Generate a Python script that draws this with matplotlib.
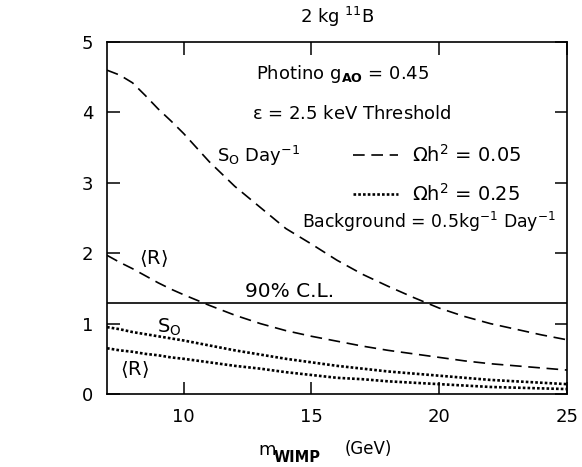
import matplotlib
matplotlib.use('Agg')
import matplotlib.pyplot as plt
import numpy as np

plt.rcParams['font.family'] = ['DejaVu Sans']
plt.rcParams['mathtext.default'] = 'regular'

# WIMP mass (GeV)
m_wimp = [7, 7.5, 8, 8.5, 9, 9.5, 10, 11, 12, 13, 14, 15, 16, 17, 18, 19,
          20, 21, 22, 23, 24, 25]

# rates for Omega h^2 = 0.05 (dashed)
s0_005 = [4.60, 4.53, 4.42, 4.24, 4.05, 3.88, 3.70, 3.30, 2.95, 2.65, 2.35,
          2.13, 1.90, 1.70, 1.53, 1.37, 1.22, 1.10, 1.00, 0.92, 0.84, 0.77]
r_005 = [1.97, 1.87, 1.78, 1.68, 1.58, 1.49, 1.41, 1.26, 1.12, 1.00, 0.90,
         0.82, 0.75, 0.68, 0.62, 0.57, 0.52, 0.47, 0.43, 0.40, 0.37, 0.34]

# rates for Omega h^2 = 0.25 (dotted)
s0_025 = [0.95, 0.92, 0.88, 0.85, 0.82, 0.79, 0.76, 0.69, 0.62, 0.56, 0.50,
          0.45, 0.40, 0.36, 0.32, 0.29, 0.26, 0.23, 0.20, 0.18, 0.16, 0.14]
r_025 = [0.65, 0.62, 0.60, 0.57, 0.55, 0.52, 0.50, 0.45, 0.40, 0.36, 0.31,
         0.27, 0.23, 0.21, 0.18, 0.16, 0.14, 0.12, 0.10, 0.09, 0.08, 0.07]

cl90 = 1.29

W, H = 582, 467
fig = plt.figure(figsize=(W / 100, H / 100), dpi=100)
ax = fig.add_axes([107 / W, 1 - 394 / H, 460 / W, 352 / H])

dash = (0, (7, 4))
dot = (0, (1, 0.8))
l1, = ax.plot(m_wimp, s0_005, color='k', lw=1.2, linestyle=dash,
              label=r'$\Omega$h$^2$ = 0.05')
ax.plot(m_wimp, r_005, color='k', lw=1.2, linestyle=dash)
l2, = ax.plot(m_wimp, s0_025, color='k', lw=1.9, linestyle=dot,
              label=r'$\Omega$h$^2$ = 0.25')
ax.plot(m_wimp, r_025, color='k', lw=1.9, linestyle=dot)
ax.axhline(cl90, color='k', lw=1.2)

ax.set_xlim(7, 25)
ax.set_ylim(0, 5)
ax.set_xticks([10, 15, 20, 25])
ax.set_yticks([0, 1, 2, 3, 4, 5])
for s in ax.spines.values():
    s.set_linewidth(1.2)
ax.tick_params(direction='in', length=9, width=1.1, labelsize=13,
               top=True, right=True, pad=10)

ax.set_title(r'2 kg $^{11}$B', fontsize=13, pad=14)

# axis label, subscript drawn a little larger than mathtext would
fig.text(258 / W, 1 - 450 / H, 'm', fontsize=13, va='center')
fig.text(274 / W, 1 - 457 / H, 'WIMP', fontsize=10.5, fontweight='bold',
         va='center')
fig.text(345 / W, 1 - 449 / H, '(GeV)', fontsize=12, va='center')

fs = 13
ax.text(0.323, 0.91, r'Photino g$_{\mathbf{AO}}$ = 0.45', transform=ax.transAxes,
        fontsize=fs, va='center')
ax.text(0.315, 0.795, r'$\epsilon$ = 2.5 keV Threshold', transform=ax.transAxes,
        fontsize=fs, va='center')
ax.text(0.24, 0.675, r'S$_O$ Day$^{-1}$', transform=ax.transAxes,
        fontsize=fs, va='center')
ax.text(0.425, 0.49, r'Background = 0.5kg$^{-1}$ Day$^{-1}$', transform=ax.transAxes,
        fontsize=12.4, va='center')
ax.text(8.25, 1.93, r'$\langle$R$\rangle$', fontsize=14, va='center')
ax.text(12.4, 1.45, '90% C.L.', fontsize=14.5, va='center')
ax.text(8.95, 0.95, r'S$_O$', fontsize=14, va='center')
ax.text(7.5, 0.34, r'$\langle$R$\rangle$', fontsize=14, va='center')

ax.legend(handles=[l1, l2], loc='upper left', bbox_to_anchor=(0.535, 0.71),
          frameon=False, fontsize=14, handlelength=2.3, handletextpad=0.72,
          labelspacing=0.85, borderaxespad=0, borderpad=0)

fig.savefig('out.png', dpi=100)
